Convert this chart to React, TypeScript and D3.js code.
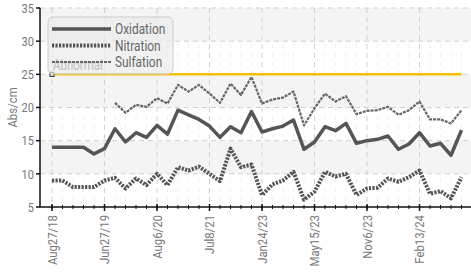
import React from "react";
import * as d3 from "d3";

const xTickLabels = ["Aug27/18", "Jun27/19", "Aug6/20", "Jul8/21", "Jan24/23", "May15/23", "Nov6/23", "Feb13/24"];
const xTickIndex = [0, 5, 10, 15, 20, 25, 30, 35];
const yTicks = [5, 10, 15, 20, 25, 30, 35];

const oxidation = [14, 14, 14, 14, 13, 13.8, 16.8, 14.8, 16.2, 15.5, 17.3, 16, 19.6, 18.9, 18.2, 17.2, 15.5, 17.1, 16.2, 19.4,
  16.3, 16.8, 17.2, 18.1, 13.7, 14.8, 17.1, 16.5, 17.6, 14.6, 15, 15.2, 15.7, 13.7, 14.5, 16.2, 14.2, 14.6, 12.8, 16.6];
const nitration = [9, 9, 8, 8, 8, 9, 9.4, 7.8, 9.3, 8.3, 10, 8.3, 11, 10.5, 11.1, 10, 8.9, 13.8, 11, 11.4,
  6.8, 8.4, 9, 10.3, 6.1, 7.3, 10.3, 9.6, 10, 6.8, 7.8, 7.9, 9.3, 8.8, 9.5, 10.5, 7, 7.4, 6.3, 9.5];
const sulfation: (number | null)[] = [null, null, null, null, null, null, 20.7, 19.2, 20.4, 20.1, 21.4, 20.6, 23.4, 22.4, 23.4, 22.1, 20.7, 23.6, 21.9, 24.6,
  20.6, 21.2, 21.5, 22.4, 17.3, 19.9, 22.1, 20.9, 21.7, 19, 19.5, 19.6, 20.1, 18.9, 19.6, 20.9, 18.2, 18.2, 17.6, 19.6];
const abnormal = 25;

const W = 471, H = 277;
const left = 40, right = 471, top = 8, bottom = 207;
const font = "Roboto, 'DejaVu Sans', sans-serif";

const seriesStyle = [
  { name: "Oxidation", data: oxidation, width: 3.5, dash: "none", color: "#555" },
  { name: "Nitration", data: nitration, width: 4, dash: "2.2,1.3", color: "#555" },
  { name: "Sulfation", data: sulfation, width: 2.2, dash: "3,1", color: "#666" },
];

function NText(props: { x: number; y: number; rotate?: number; sx?: number; size: number; fill: string; anchor?: string; dy?: string; children: React.ReactNode }) {
  const { x, y, rotate = 0, sx = 0.82, size, fill, anchor = "start", dy = "0", children } = props;
  return (
    <text transform={`translate(${x},${y}) rotate(${rotate}) scale(${sx},1)`} dy={dy} textAnchor={anchor}
      fontFamily={font} fontSize={size} fill={fill}>{children}</text>
  );
}

export default function App() {
  const n = oxidation.length;
  const x = d3.scaleLinear().domain([0, n - 1]).range([52, 461.5]);
  const y = d3.scaleLinear().domain([5, 35]).range([bottom, top]);
  const line = d3.line<number | null>()
    .defined((d) => d != null)
    .x((_, i) => x(i))
    .y((d) => y(d as number));
  const idx = d3.range(n);
  const bands = [30, 20, 10];
  return (
    <svg width={W} height={H} style={{ position: "absolute", left: 0, top: 0, background: "#fff" }}>
      {bands.map((b) => (
        <rect key={b} x={left} y={y(b + 5)} width={right - left} height={y(b) - y(b + 5)} fill="#f4f4f4" />
      ))}
      {yTicks.slice(1).map((t) => (
        <line key={t} x1={left} x2={right} y1={y(t)} y2={y(t)} stroke="#cfcfcf" strokeDasharray="5,4" strokeWidth={1} />
      ))}
      {idx.filter((i) => i % 5 !== 0).map((i) => (
        <line key={i} x1={x(i)} x2={x(i)} y1={top} y2={bottom} stroke="#f0f0f0" strokeDasharray="4,5" strokeWidth={1} />
      ))}
      {xTickIndex.map((i) => (
        <line key={i} x1={x(i)} x2={x(i)} y1={top} y2={bottom} stroke="#d0d0d0" strokeDasharray="5,4" strokeWidth={1} />
      ))}
      <line x1={x(0)} x2={x(n - 1)} y1={y(abnormal)} y2={y(abnormal)} stroke="#f5c000" strokeWidth={2.5} />
      <rect x={x(0) - 2} y={y(abnormal) - 2} width={4} height={4} fill="#fff" stroke="#222" strokeWidth={1} />
      {seriesStyle.map((s) => (
        <path key={s.name} d={line(s.data) || ""} fill="none" stroke={s.color} strokeWidth={s.width}
          strokeDasharray={s.dash} strokeLinejoin="round" />
      ))}
      <line x1={left} x2={left} y1={top} y2={bottom} stroke="#111" strokeWidth={1.5} />
      <line x1={left} x2={right} y1={bottom} y2={bottom} stroke="#111" strokeWidth={1.5} />
      {yTicks.map((t) => (
        <g key={t}>
          <line x1={left - 4} x2={left} y1={y(t)} y2={y(t)} stroke="#111" strokeWidth={1.5} />
          <NText x={left - 6} y={y(t)} dy="0.36em" anchor="end" size={13} sx={0.85} fill="#777">{t}</NText>
        </g>
      ))}
      {idx.map((i) => (
        <line key={i} x1={x(i)} x2={x(i)} y1={bottom - 2} y2={bottom + 2} stroke="#111" strokeWidth={1} />
      ))}
      {xTickIndex.map((i, k) => (
        <g key={i}>
          <line x1={x(i)} x2={x(i)} y1={bottom - 3} y2={bottom + 4} stroke="#111" strokeWidth={1.5} />
          <NText x={x(i)} y={bottom + 8} rotate={-90} dy="0.36em" anchor="end" size={13.5} sx={0.84} fill="#777">{xTickLabels[k]}</NText>
        </g>
      ))}
      <NText x={12} y={(top + bottom) / 2} rotate={-90} dy="0.36em" anchor="middle" size={13.5} sx={0.84} fill="#777">Abs/cm</NText>
      <rect x={48} y={17} width={125} height={57} rx={5} fill="#ebebeb" fillOpacity={0.72} stroke="#cccccc" />
      <NText x={x(0) + 1} y={y(abnormal) - 4.5} size={14} fill="#bdbdbd">Abnormal</NText>
      {seriesStyle.map((s, k) => (
        <g key={s.name}>
          <line x1={52} x2={111} y1={29 + k * 16.5} y2={29 + k * 16.5} stroke={s.color} strokeWidth={s.width}
            strokeDasharray={s.dash} />
          <NText x={115} y={29 + k * 16.5} dy="0.36em" size={14.5} fill="#666">{s.name}</NText>
        </g>
      ))}
    </svg>
  );
}
